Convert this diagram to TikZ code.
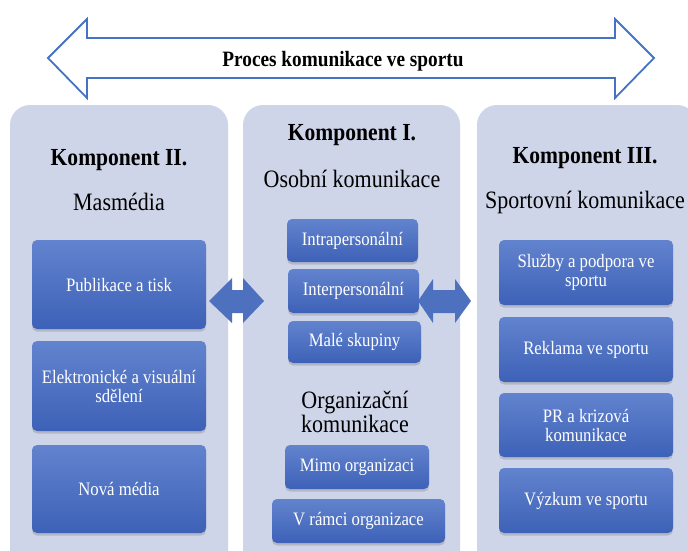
\documentclass[tikz,border=0pt]{standalone}
\usepackage{fontspec}
\setmainfont{Liberation Serif}[FakeStretch=0.88]
\usetikzlibrary{shadows}

\definecolor{panel}{HTML}{CFD5E9}
\definecolor{boxtop}{HTML}{6283CE}
\definecolor{boxbot}{HTML}{3D61B7}
\definecolor{arrowblue}{HTML}{4472C4}
\definecolor{darrow}{HTML}{4D70BF}

\begin{document}
\begin{tikzpicture}[x=1pt,y=-1pt,
  panelbox/.style={fill=panel, rounded corners=20pt},
  itembox/.style={rounded corners=5pt, top color=boxtop, bottom color=boxbot,
    draw=none, text=white, align=center, inner sep=2pt,
    font=\fontsize{19}{19}\selectfont,
    drop shadow={opacity=0.35, shadow xshift=0pt, shadow yshift=-2.5pt}},
  headtext/.style={font=\bfseries\fontsize{24.5}{28}\selectfont, anchor=base, inner sep=0pt},
  subtext/.style={font=\fontsize{25}{22}\selectfont, align=center, inner sep=0pt},
  dblarrow/.style={fill=darrow, draw=none},
]
\useasboundingbox (0,0) rectangle (688,550);
\fill[white] (0,0) rectangle (688,550);
\clip (0,0) rectangle (688,550);

% panels
\fill[panelbox] (10,105) rectangle (228,585);
\fill[panelbox] (243,105) rectangle (460,585);
\fill[panelbox] (477,105) rectangle (697,585);

% top process arrow
\draw[arrowblue, line width=1.8pt, fill=white, line join=miter]
  (48,58) -- (87,19) -- (87,38) -- (615,38) -- (615,19) -- (654,58)
  -- (615,98) -- (615,78) -- (87,78) -- (87,98) -- cycle;
\node[font=\bfseries\fontsize{21.9}{24}\selectfont, anchor=base, inner sep=0pt]
  (title) at (343,66) {Proces komunikace ve sportu};

% double arrows between panels
\fill[dblarrow] (209,301) -- (232,278) -- (232,290) -- (243,290) -- (243,278)
  -- (264,301) -- (243,323) -- (243,313) -- (232,313) -- (232,323) -- cycle;
\fill[dblarrow] (418,301) -- (433,279) -- (433,290) -- (455,290) -- (455,279)
  -- (471,301) -- (455,323) -- (455,313) -- (433,313) -- (433,323) -- cycle;

% Component II
\node[headtext] (k2) at (119,165) {Komponent II.};
\node[subtext, anchor=base] (k2s) at (119,210) {Masmédia};
\node[itembox, minimum width=174pt, minimum height=89pt] (l1) at (119,284.5) {Publikace a tisk};
\node[itembox, minimum width=174pt, minimum height=90pt] (l2) at (119,386) {Elektronické a visuální\\sdělení};
\node[itembox, minimum width=174pt, minimum height=88pt] (l3) at (119,489) {Nová média};

% Component I
\node[headtext] (k1) at (352,140) {Komponent I.};
\node[subtext, anchor=base] (k1s) at (352,187) {Osobní komunikace};
\node[itembox, minimum width=131pt, minimum height=43pt] (m1) at (352.5,240.5) {Intrapersonální};
\node[itembox, minimum width=131pt, minimum height=44pt] (m2) at (353.5,291) {Interpersonální};
\node[itembox, minimum width=133pt, minimum height=42pt] (m3) at (354.5,342) {Malé skupiny};
\node[subtext] (k1o) at (355,412) {Organizační\\komunikace};
\node[itembox, minimum width=144pt, minimum height=44pt] (m4) at (357,467) {Mimo organizaci};
\node[itembox, minimum width=173pt, minimum height=44pt] (m5) at (358.5,521) {V rámci organizace};

% Component III
\node[headtext] (k3) at (585,163) {Komponent III.};
\node[subtext, anchor=base] (k3s) at (585,208) {Sportovní komunikace};
\node[itembox, minimum width=174pt, minimum height=65pt] (r1) at (586,272.5) {Služby a podpora ve\\sportu};
\node[itembox, minimum width=174pt, minimum height=65pt] (r2) at (586,349.5) {Reklama ve sportu};
\node[itembox, minimum width=174pt, minimum height=64pt] (r3) at (586,425) {PR a krizová\\komunikace};
\node[itembox, minimum width=174pt, minimum height=65pt] (r4) at (586,500.5) {Výzkum ve sportu};
\end{tikzpicture}
\end{document}
